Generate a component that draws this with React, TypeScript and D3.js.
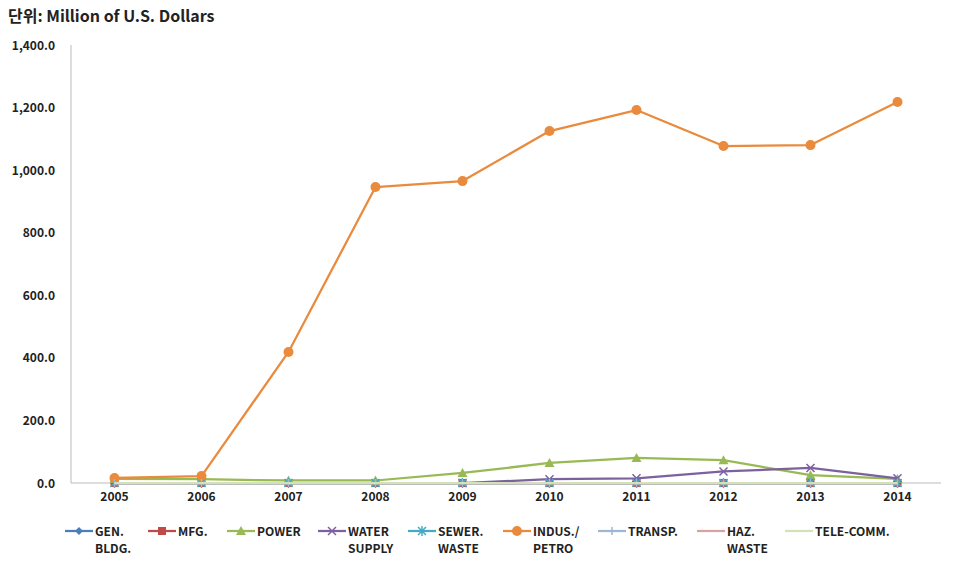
import React, { useEffect, useRef } from "react";
import * as d3 from "d3";

const years = ["2005", "2006", "2007", "2008", "2009", "2010", "2011", "2012", "2013", "2014"];
const genBldg = [0, 0, 0, 0, 0, 0, 0, 0, 0, 0];
const mfg = [0, 0, 0, 0, 0, 0, 0, 0, 0, 0];
const power = [13, 12, 8, 8, 32, 64, 80, 73, 25, 13];
const waterSupply = [null, null, null, null, 0, 12, 15, 37, 48, 15];
const sewerWaste = [0, 0, 0, 0, 0, 0, 0, 0, 0, 0];
const indusPetro = [16, 22, 419, 946, 965, 1125, 1192, 1077, 1080, 1218];
const transp = [0, 0, 0, 0, 0, 0, 0, 0, 0, 0];
const hazWaste = [0, 0, 0, 0, 0, 0, 0, 0, 0, 0];
const teleComm = [0, 0, 0, 0, 0, 0, 0, 0, 0, 0];
const yTicks = [0, 200, 400, 600, 800, 1000, 1200, 1400];

type Series = { name: string[]; values: (number | null)[]; color: string; marker: string };

const series: Series[] = [
  { name: ["GEN.", "BLDG."], values: genBldg, color: "#4a7ebb", marker: "diamond" },
  { name: ["MFG."], values: mfg, color: "#be4b48", marker: "square" },
  { name: ["POWER"], values: power, color: "#98b954", marker: "triangle" },
  { name: ["WATER", "SUPPLY"], values: waterSupply, color: "#7d60a0", marker: "x" },
  { name: ["SEWER.", "WASTE"], values: sewerWaste, color: "#46aac5", marker: "star" },
  { name: ["INDUS./", "PETRO"], values: indusPetro, color: "#e98a3c", marker: "circle" },
  { name: ["TRANSP."], values: transp, color: "#9fb6d3", marker: "plus" },
  { name: ["HAZ.", "WASTE"], values: hazWaste, color: "#d6a3a2", marker: "none" },
  { name: ["TELE-COMM."], values: teleComm, color: "#d3e1b8", marker: "none" },
];

const legendX = [65, 148, 227, 318, 408, 503, 598, 697, 785];

const font = "'Noto Sans CJK KR', 'Open Sans', sans-serif";

function drawMarker(g: any, type: string, x: number, y: number, color: string) {
  const s = 4;
  if (type === "diamond") {
    g.append("path").attr("d", `M${x},${y - s}L${x + s},${y}L${x},${y + s}L${x - s},${y}Z`).attr("fill", color);
  } else if (type === "square") {
    g.append("rect").attr("x", x - s).attr("y", y - s).attr("width", 2 * s).attr("height", 2 * s).attr("fill", color);
  } else if (type === "triangle") {
    g.append("path").attr("d", `M${x},${y - s - 1}L${x + s + 1},${y + s}L${x - s - 1},${y + s}Z`).attr("fill", color);
  } else if (type === "circle") {
    g.append("circle").attr("cx", x).attr("cy", y).attr("r", s + 1).attr("fill", color);
  } else if (type === "x") {
    g.append("path").attr("d", `M${x - s},${y - s}L${x + s},${y + s}M${x + s},${y - s}L${x - s},${y + s}`).attr("stroke", color).attr("stroke-width", 1.5);
  } else if (type === "star") {
    g.append("path").attr("d", `M${x - s},${y - s}L${x + s},${y + s}M${x + s},${y - s}L${x - s},${y + s}M${x},${y - s - 1}L${x},${y + s + 1}`).attr("stroke", color).attr("stroke-width", 1.5);
  } else if (type === "plus") {
    g.append("path").attr("d", `M${x},${y - s}L${x},${y + s}`).attr("stroke", color).attr("stroke-width", 1.5);
  }
}

export default function App() {
  const svgRef = useRef<SVGSVGElement>(null);

  useEffect(() => {
    const svg = d3.select(svgRef.current);
    svg.selectAll("*").remove();

    const left = 71, right = 941, top = 45, bottom = 483;

    const x = d3.scalePoint<string>().domain(years).range([left, right]).padding(0.5);
    const y = d3.scaleLinear().domain([0, 1400]).range([bottom, top]);

    // title
    svg.append("text")
      .attr("x", 8).attr("y", 22)
      .attr("font-family", font).attr("font-weight", "bold").attr("font-size", 16)
      .attr("fill", "#222")
      .text("단위: Million of U.S. Dollars");

    // y axis line
    svg.append("line").attr("x1", left).attr("x2", left).attr("y1", top).attr("y2", bottom)
      .attr("stroke", "#bbb").attr("stroke-width", 1);

    svg.selectAll(".ytick").data(yTicks).enter().append("text")
      .attr("x", 55).attr("y", (d) => y(d) + 4.5)
      .attr("text-anchor", "end")
      .attr("font-family", font).attr("font-weight", "bold").attr("font-size", 12)
      .attr("fill", "#222")
      .text((d) => d3.format(",.1f")(d));

    svg.selectAll(".xtick").data(years).enter().append("text")
      .attr("x", (d) => x(d)!).attr("y", bottom + 18)
      .attr("text-anchor", "middle")
      .attr("font-family", font).attr("font-weight", "bold").attr("font-size", 12)
      .attr("fill", "#222")
      .text((d) => d);

    // x axis line
    svg.append("line").attr("x1", left).attr("x2", right).attr("y1", bottom).attr("y2", bottom)
      .attr("stroke", "#bbb").attr("stroke-width", 1);

    const line = d3.line<number | null>()
      .defined((d) => d !== null)
      .x((_, i) => x(years[i])!)
      .y((d) => y(d as number));

    series.forEach((s) => {
      const g = svg.append("g");
      g.append("path").datum(s.values).attr("d", line)
        .attr("fill", "none").attr("stroke", s.color).attr("stroke-width", 2.25)
        .attr("stroke-linejoin", "round");
      s.values.forEach((v, i) => {
        if (v === null) return;
        drawMarker(g, s.marker, x(years[i])!, y(v), s.color);
      });
    });

    // legend
    const lg = svg.append("g");
    series.forEach((s, i) => {
      const lx = legendX[i];
      const ly = 531;
      lg.append("line").attr("x1", lx).attr("x2", lx + 28).attr("y1", ly).attr("y2", ly)
        .attr("stroke", s.color).attr("stroke-width", 2.25);
      drawMarker(lg, s.marker, lx + 14, ly, s.color);
      s.name.forEach((t, j) => {
        lg.append("text")
          .attr("x", lx + 30).attr("y", ly + 5 + j * 17)
          .attr("font-family", font).attr("font-weight", "bold").attr("font-size", 12)
          .attr("fill", "#222")
          .text(t);
      });
    });
  }, []);

  return (
    <div style={{ position: "absolute", left: 0, top: 0, background: "#fff" }}>
      <svg ref={svgRef} width={955} height={570}></svg>
    </div>
  );
}
